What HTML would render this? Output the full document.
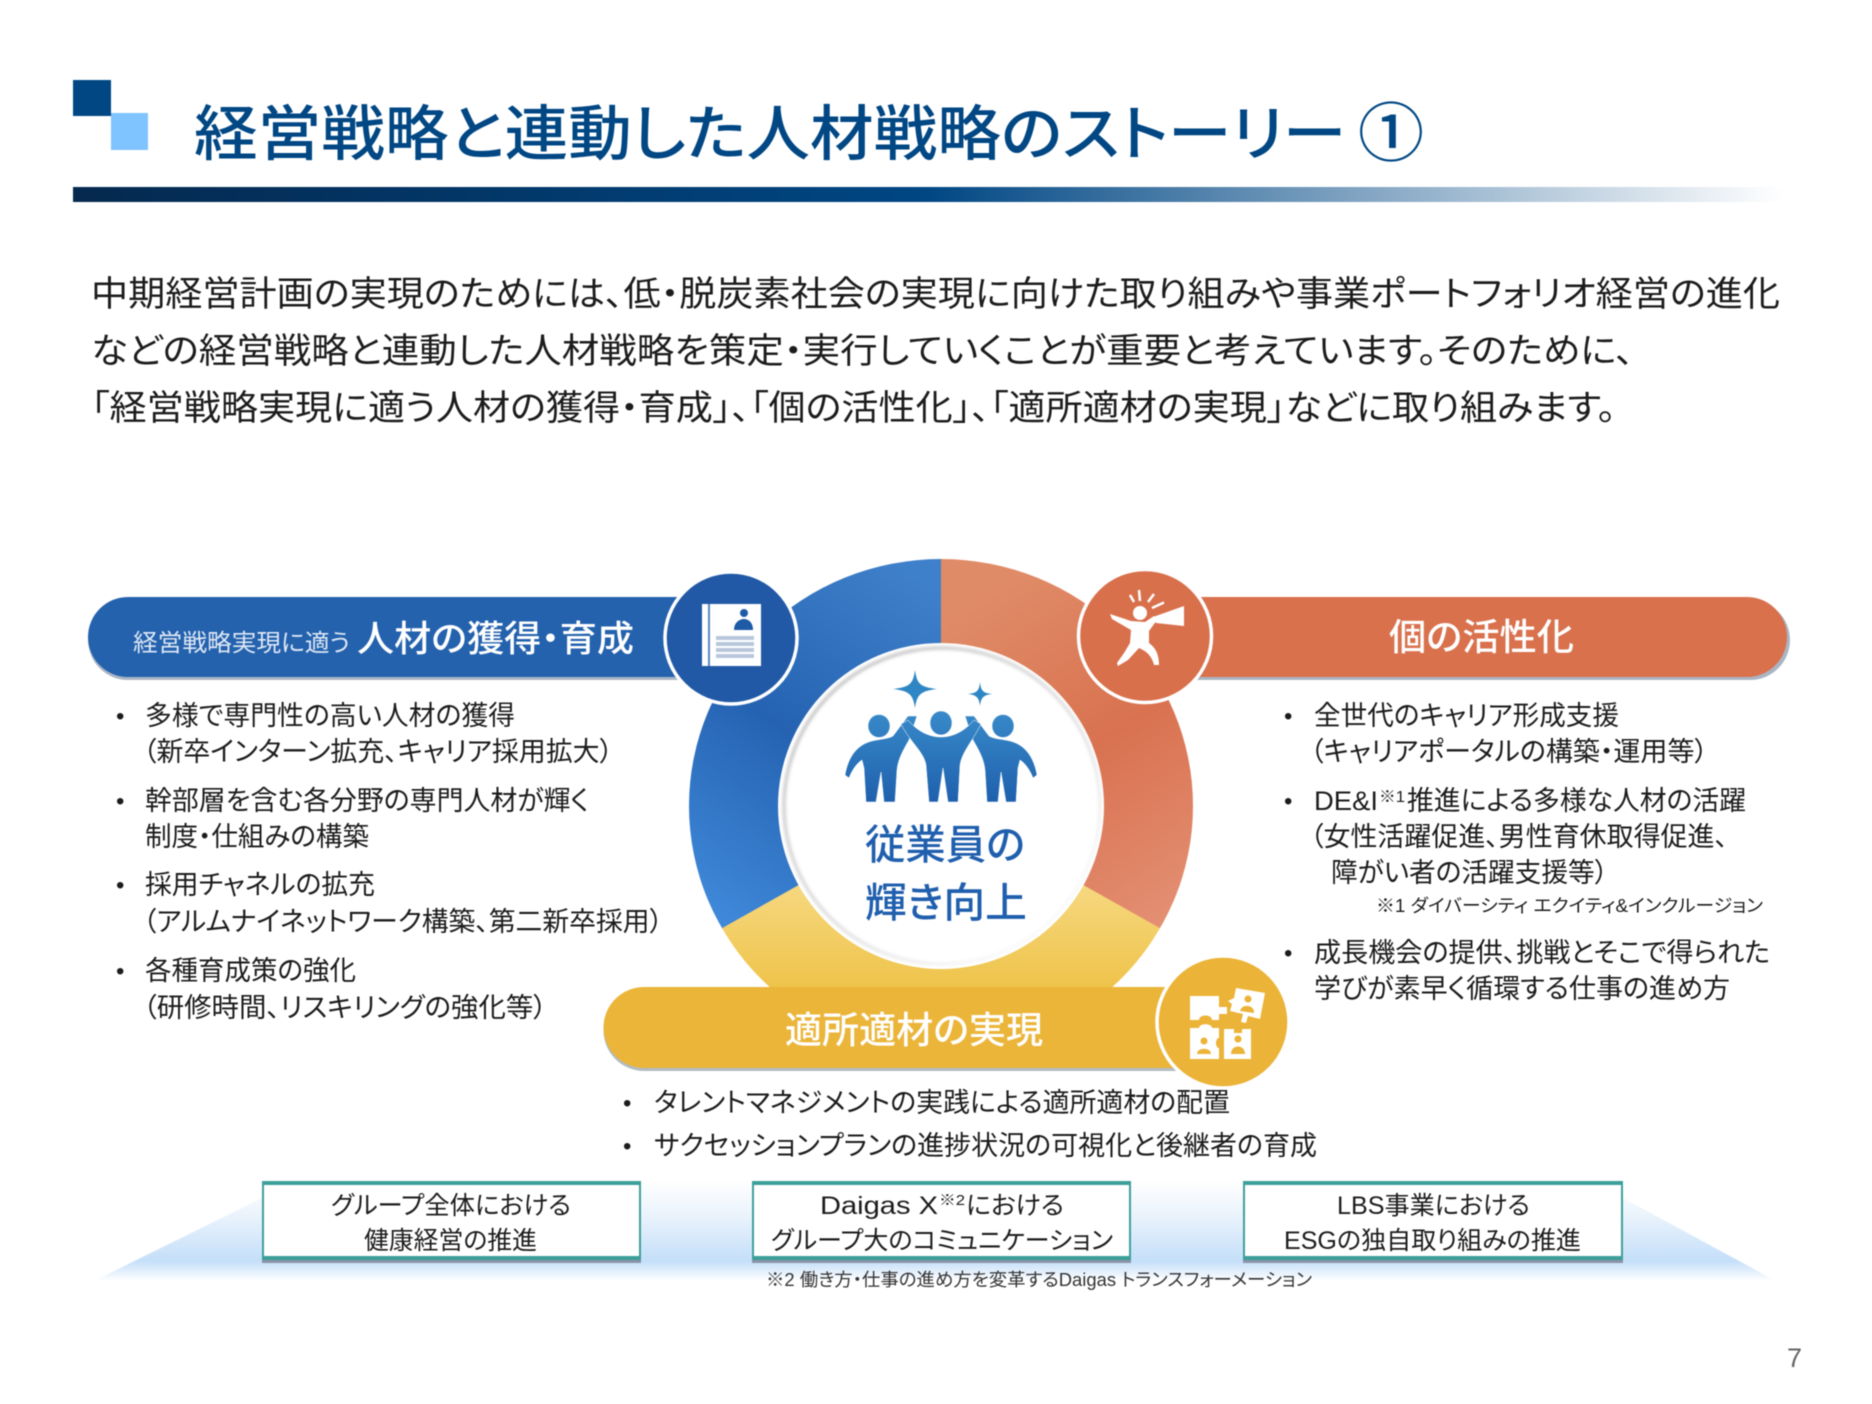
<!DOCTYPE html>
<html lang="ja">
<head>
<meta charset="utf-8">
<title>経営戦略と連動した人材戦略のストーリー ①</title>
<style>
html,body{margin:0;padding:0;background:#fff;width:1872px;height:1404px;overflow:hidden}
svg{display:block;filter:blur(.55px)}
text{font-family:"Liberation Sans","Noto Sans CJK JP",sans-serif;font-feature-settings:"palt";fill:#1c1c1c}
.w{fill:#fff;font-weight:500}
</style>
</head>
<body>
<svg xmlns="http://www.w3.org/2000/svg" width="1872" height="1404" viewBox="0 0 1872 1404">
<defs>
<linearGradient id="tb" x1="0" x2="1" y1="0" y2="0"><stop offset="0" stop-color="#05294f"/><stop offset=".5" stop-color="#004784"/><stop offset="1" stop-color="#fff"/></linearGradient>
<linearGradient id="gb" gradientUnits="userSpaceOnUse" x1="950" y1="600" x2="720" y2="930"><stop offset="0" stop-color="#3f80ca"/><stop offset=".5" stop-color="#2563b2"/><stop offset="1" stop-color="#418adb"/></linearGradient>
<linearGradient id="go" gradientUnits="userSpaceOnUse" x1="950" y1="620" x2="1150" y2="930"><stop offset="0" stop-color="#e08b67"/><stop offset=".5" stop-color="#d97250"/><stop offset="1" stop-color="#e48f73"/></linearGradient>
<linearGradient id="gy" gradientUnits="userSpaceOnUse" x1="0" y1="880" x2="0" y2="990"><stop offset="0" stop-color="#f6d982"/><stop offset="1" stop-color="#efc349"/></linearGradient>
<linearGradient id="gp" gradientUnits="userSpaceOnUse" x1="0" y1="716" x2="0" y2="802"><stop offset="0" stop-color="#3788c8"/><stop offset="1" stop-color="#1f60ad"/></linearGradient>
<linearGradient id="gs" gradientUnits="userSpaceOnUse" x1="800" y1="660" x2="1060" y2="950"><stop offset="0" stop-color="#b5b5b5"/><stop offset=".65" stop-color="#e2e2e2"/><stop offset="1" stop-color="#fff"/></linearGradient>
<linearGradient id="gt" x1="0" x2="0" y1="0" y2="1"><stop offset="0" stop-color="#fff"/><stop offset=".35" stop-color="#eaf3fc"/><stop offset=".8" stop-color="#c4dff9"/><stop offset="1" stop-color="#fff"/></linearGradient>
<clipPath id="cr"><ellipse cx="941" cy="806" rx="252" ry="247"/></clipPath>
<filter id="bl"><feGaussianBlur stdDeviation="1.6"/></filter>
</defs>

<!-- header -->
<rect x="73" y="80" width="38" height="36" fill="#004784"/>
<rect x="111" y="113" width="37" height="37" fill="#7fc4ff"/>
<text x="194" y="155" font-size="60" textLength="1152" lengthAdjust="spacingAndGlyphs" style="fill:#004784;font-weight:500">経営戦略と連動した人材戦略のストーリー</text>
<text x="1358" y="156" font-size="64" textLength="66" lengthAdjust="spacingAndGlyphs" style="fill:#004784;font-weight:500">①</text>
<rect x="73" y="187" width="1709" height="15" fill="url(#tb)"/>

<!-- intro -->
<text x="91" y="306" font-size="35" textLength="1689" lengthAdjust="spacingAndGlyphs">中期経営計画の実現のためには、低・脱炭素社会の実現に向けた取り組みや事業ポートフォリオ経営の進化</text>
<text x="91" y="363" font-size="35" textLength="1543" lengthAdjust="spacingAndGlyphs">などの経営戦略と連動した人材戦略を策定・実行していくことが重要と考えています。そのために、</text>
<text x="91" y="420" font-size="35" textLength="1525" lengthAdjust="spacingAndGlyphs">「経営戦略実現に適う人材の獲得・育成」、「個の活性化」、「適所適材の実現」などに取り組みます。</text>

<!-- ring -->
<g clip-path="url(#cr)">
<polygon points="941,805 941,540 660,540 660,965" fill="url(#gb)"/>
<polygon points="941,805 941,540 1222,540 1222,965" fill="url(#go)"/>
<polygon points="941,805 660,963 660,1060 1222,1060 1222,963" fill="url(#gy)"/>
</g>
<circle cx="941" cy="806" r="163" fill="#fff"/>
<circle cx="942" cy="806" r="158" fill="none" stroke="url(#gs)" stroke-width="3" filter="url(#bl)"/>

<!-- people -->
<g fill="#2f86c5">
<path d="M915,670 C917,684 920,687 937,689 C920,691 917,695 915,708 C913,695 910,691 893,689 C910,687 913,684 915,670Z"/>
<path d="M980,682 C981,691 983,693 992,694 C983,695 981,698 980,706 C979,698 977,695 968,694 C977,693 979,691 980,682Z"/>
</g>
<g fill="url(#gp)" stroke="#fff" stroke-width=".5">
<ellipse cx="879" cy="726" rx="11" ry="11.5"/>
<ellipse cx="941" cy="723" rx="11" ry="12"/>
<ellipse cx="1003" cy="726" rx="11" ry="11.5"/>
<path d="M845,775 C848,758 856,745 872,741 C880,739 888,739 893,736 L908,716 L917,716 L909,740 C902,752 898,760 897,770 L895,802 L884,802 L881,772 L876,802 L866,802 L864,768 L862,760 C857,763 852,770 849,778Z"/>
<path d="M1037,775 C1034,758 1026,745 1010,741 C1002,739 994,739 989,736 L974,716 L965,716 L973,740 C980,752 984,760 985,770 L987,802 L998,802 L1001,772 L1006,802 L1016,802 L1018,768 L1020,760 C1025,763 1030,770 1033,778Z"/>
<path d="M901,724 L908,720 C918,732 930,737 941,737 C952,737 964,732 974,720 L981,724 C972,742 962,752 960,765 L958,802 L948,802 L943,768 L938,802 L929,802 L926,765 C924,752 910,742 901,724Z"/>
</g>
<text x="865" y="859" font-size="41" textLength="160" lengthAdjust="spacingAndGlyphs" style="fill:#1f5fae;font-weight:500">従業員の</text>
<text x="865" y="917" font-size="41" textLength="162" lengthAdjust="spacingAndGlyphs" style="fill:#1f5fae;font-weight:500">輝き向上</text>

<!-- blue bar -->
<path d="M128,600 H720 V680 H128 A40,40 0 0 1 128,600Z" fill="#aab5c4"/>
<path d="M128,597 H720 V677 H128 A40,40 0 0 1 128,597Z" fill="#2462ae"/>
<circle cx="731" cy="638" r="66" fill="#2259a6" stroke="#fff" stroke-width="3.5"/>
<text x="133" y="651" font-size="24" textLength="217" lengthAdjust="spacingAndGlyphs" style="fill:#dfe8f5">経営戦略実現に適う</text>
<text x="357" y="651" font-size="36" textLength="277" lengthAdjust="spacingAndGlyphs" class="w">人材の獲得・育成</text>
<rect x="702" y="604" width="59" height="62" fill="#fff"/>
<rect x="708" y="604" width="2" height="62" fill="#5a86c0"/>
<circle cx="744" cy="613" r="4" fill="#1f5aa6"/>
<path d="M734,630 C734,622 740,619 744,619 C748,619 753,622 753,630Z" fill="#1f5aa6"/>
<g fill="#b9c7dc"><rect x="716" y="636" width="38" height="4"/><rect x="716" y="642" width="38" height="4"/><rect x="716" y="648" width="38" height="4"/><rect x="716" y="654" width="38" height="4"/></g>

<!-- orange bar -->
<path d="M1190,600 H1750 A40,40 0 0 1 1750,680 H1190Z" fill="#aab5c4"/>
<path d="M1190,597 H1747 A40,40 0 0 1 1747,677 H1190Z" fill="#d9714d"/>
<circle cx="1145" cy="636" r="66.5" fill="#d9704c" stroke="#fff" stroke-width="3.5"/>
<text x="1389" y="650" font-size="37" textLength="185" lengthAdjust="spacingAndGlyphs" class="w">個の活性化</text>
<g fill="#fff">
<circle cx="1140" cy="613" r="7"/>
<path d="M1110,614 L1131,621 L1145,622 L1154,616 L1157,620 L1149,631 L1149,643 C1156,648 1159,655 1159,665 L1154,665 C1152,656 1146,651 1139,648 L1128,660 L1118,666 L1117,663 L1124,653 L1130,643 L1131,630 L1112,619Z"/>
<path d="M1153,617 L1184,606 L1184,626 L1156,623Z"/>
</g>
<g stroke="#fff" stroke-width="2.5" fill="none"><path d="M1130,595L1134,602M1139,590L1140,601M1154,594L1148,602M1164,602.5L1152,608"/></g>

<!-- yellow bar -->
<path d="M644,990 H1190 V1071 H644 A40,40 0 0 1 644,990Z" fill="#b3bcc4"/>
<path d="M644,987 H1190 V1068 H644 A40,40 0 0 1 644,987Z" fill="#ebb53a"/>
<circle cx="1223" cy="1022" r="66" fill="#ebb338" stroke="#fff" stroke-width="3.5"/>
<text x="785" y="1043" font-size="37" textLength="258" lengthAdjust="spacingAndGlyphs" class="w">適所適材の実現</text>
<g fill="#fff" transform="translate(1,1)">
<path d="M1189,995 H1218 V1006 H1226 V1013 H1218 V1019 H1211 C1211,1013 1198,1013 1198,1019 H1189Z"/>
<polygon points="1235,987 1264,992 1259,1018 1247,1015 1245,1022 1240,1021 1242,1013 1229,1010 1231,1003 1227,1000 1233,997"/>
<path d="M1189,1027 H1198 C1198,1022 1211,1022 1211,1027 H1218 V1037 C1214,1037 1214,1047 1218,1047 V1058 H1189Z"/>
<path d="M1223,1028 H1233 V1032 H1241 V1028 H1250 V1058 H1223Z"/>
</g>
<g fill="#ebb338" transform="translate(1,1)">
<circle cx="1203" cy="1040" r="3.5"/><path d="M1196,1053 C1196,1046 1210,1046 1210,1053Z"/>
<circle cx="1237" cy="1038" r="3.5"/><path d="M1230,1053 C1230,1043 1244,1043 1244,1053Z"/>
<circle cx="1247" cy="998" r="3.5"/><path d="M1239,1010 C1241,1002 1254,1004 1253,1012Z"/>
</g>

<!-- left list -->
<text x="116" y="724" font-size="24">•</text>
<text x="145" y="725" font-size="27" textLength="370" lengthAdjust="spacingAndGlyphs">多様で専門性の高い人材の獲得</text>
<text x="143" y="761" font-size="27" textLength="470" lengthAdjust="spacingAndGlyphs">（新卒インターン拡充、キャリア採用拡大）</text>
<text x="116" y="809" font-size="24">•</text>
<text x="145" y="810" font-size="27" textLength="444" lengthAdjust="spacingAndGlyphs">幹部層を含む各分野の専門人材が輝く</text>
<text x="145" y="846" font-size="27" textLength="224" lengthAdjust="spacingAndGlyphs">制度・仕組みの構築</text>
<text x="116" y="893" font-size="24">•</text>
<text x="145" y="894" font-size="27" textLength="230" lengthAdjust="spacingAndGlyphs">採用チャネルの拡充</text>
<text x="143" y="931" font-size="27" textLength="520" lengthAdjust="spacingAndGlyphs">（アルムナイネットワーク構築、第二新卒採用）</text>
<text x="116" y="979" font-size="24">•</text>
<text x="145" y="980" font-size="27" textLength="211" lengthAdjust="spacingAndGlyphs">各種育成策の強化</text>
<text x="143" y="1017" font-size="27" textLength="404" lengthAdjust="spacingAndGlyphs">（研修時間、リスキリングの強化等）</text>

<!-- right list -->
<text x="1284" y="724" font-size="24">•</text>
<text x="1314" y="725" font-size="27" textLength="305" lengthAdjust="spacingAndGlyphs">全世代のキャリア形成支援</text>
<text x="1310" y="761" font-size="27" textLength="398" lengthAdjust="spacingAndGlyphs">（キャリアポータルの構築・運用等）</text>
<text x="1284" y="809" font-size="24">•</text>
<text x="1314" y="810" font-size="27" textLength="64" lengthAdjust="spacingAndGlyphs">DE&amp;I</text>
<text x="1379" y="802" font-size="16" textLength="26" lengthAdjust="spacingAndGlyphs">※1</text>
<text x="1407" y="810" font-size="27" textLength="339" lengthAdjust="spacingAndGlyphs">推進による多様な人材の活躍</text>
<text x="1310" y="846" font-size="27" textLength="418" lengthAdjust="spacingAndGlyphs">（女性活躍促進、男性育休取得促進、</text>
<text x="1331" y="882" font-size="27" textLength="277" lengthAdjust="spacingAndGlyphs">障がい者の活躍支援等）</text>
<text x="1376" y="912" font-size="18" textLength="387" lengthAdjust="spacingAndGlyphs">※1 ダイバーシティ エクイティ&amp;インクルージョン</text>
<text x="1284" y="961" font-size="24">•</text>
<text x="1314" y="962" font-size="27" textLength="456" lengthAdjust="spacingAndGlyphs">成長機会の提供、挑戦とそこで得られた</text>
<text x="1314" y="998" font-size="27" textLength="416" lengthAdjust="spacingAndGlyphs">学びが素早く循環する仕事の進め方</text>

<!-- yellow list -->
<text x="623" y="1111" font-size="24">•</text>
<text x="654" y="1112" font-size="27" textLength="576" lengthAdjust="spacingAndGlyphs">タレントマネジメントの実践による適所適材の配置</text>
<text x="623" y="1154" font-size="24">•</text>
<text x="654" y="1155" font-size="27" textLength="663" lengthAdjust="spacingAndGlyphs">サクセッションプランの進捗状況の可視化と後継者の育成</text>

<!-- bottom -->
<polygon points="94,1281 262,1198 262,1181 1623,1181 1623,1198 1776,1281" fill="url(#gt)"/>
<g fill="#fff" stroke="#3d9f9a" stroke-width="2">
<rect x="263" y="1183" width="377" height="77"/>
<rect x="753" y="1183" width="377" height="77"/>
<rect x="1244" y="1183" width="378" height="77"/>
</g>
<g fill="#3d9f9a">
<rect x="262" y="1181" width="379" height="4"/><rect x="752" y="1181" width="379" height="4"/><rect x="1243" y="1181" width="380" height="4"/>
<rect x="262" y="1256" width="379" height="4"/><rect x="752" y="1256" width="379" height="4"/><rect x="1243" y="1256" width="380" height="4"/>
</g>
<g fill="#8a93a8">
<rect x="262" y="1260" width="379" height="3"/><rect x="752" y="1260" width="379" height="3"/><rect x="1243" y="1260" width="380" height="3"/>
</g>
<text x="331" y="1214" font-size="25" textLength="240" lengthAdjust="spacingAndGlyphs">グループ全体における</text>
<text x="364" y="1249" font-size="25" textLength="173" lengthAdjust="spacingAndGlyphs">健康経営の推進</text>
<text x="820" y="1214" font-size="25" textLength="118" lengthAdjust="spacingAndGlyphs">Daigas X</text>
<text x="939" y="1205" font-size="15" textLength="26" lengthAdjust="spacingAndGlyphs">※2</text>
<text x="966" y="1214" font-size="25" textLength="98" lengthAdjust="spacingAndGlyphs">における</text>
<text x="771" y="1249" font-size="25" textLength="342" lengthAdjust="spacingAndGlyphs">グループ大のコミュニケーション</text>
<text x="1337" y="1214" font-size="25" textLength="193" lengthAdjust="spacingAndGlyphs">LBS事業における</text>
<text x="1284" y="1249" font-size="25" textLength="297" lengthAdjust="spacingAndGlyphs">ESGの独自取り組みの推進</text>
<text x="766" y="1286" font-size="18" textLength="546" lengthAdjust="spacingAndGlyphs" style="fill:#333">※2 働き方・仕事の進め方を変革するDaigas トランスフォーメーション</text>
<text x="1787" y="1367" font-size="27" style="fill:#666">7</text>
</svg>
</body>
</html>
